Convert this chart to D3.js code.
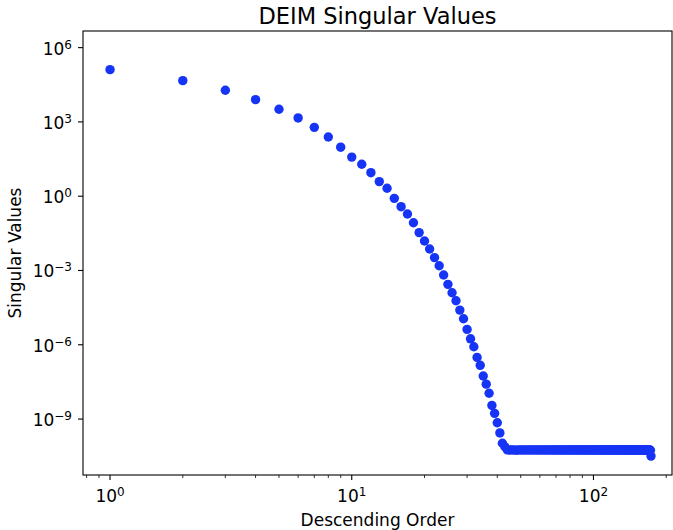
<!DOCTYPE html>
<html>
<head>
<meta charset="utf-8">
<script src="https://cdn.jsdelivr.net/npm/d3@7"></script>
<style>
	body { margin: 0; background: #fff; }
	svg text { font-family: "DejaVu Sans", sans-serif; fill: #000; }
</style>
</head>
<body>
<div id="chart"></div>
<script>
// Singular values, in descending order (index 1..n)
var headValues = [
	1.29e5, 4.65e4, 1.90e4, 7.94e3, 3.24e3, 1.45e3, 6.03e2, 2.45e2, 9.55e1, 3.80e1,
	1.95e1, 8.91, 3.89, 2.09, 8.2e-1, 3.77e-1, 1.91e-1, 8.5e-2, 3.39e-2, 1.55e-2,
	7.4e-3, 3.31e-3, 1.55e-3, 6.6e-4, 2.75e-4, 1.26e-4, 6.0e-5, 2.51e-5, 1.12e-5, 4.17e-6,
	1.74e-6, 8.3e-7, 3.09e-7, 1.48e-7, 5.5e-8, 2.57e-8, 1.10e-8, 3.55e-9, 1.70e-9, 7.1e-10,
	2.75e-10, 1.05e-10, 7.6e-11
];
// the flat floor after index 43
var floorValues = [
	5.7e-11, 5.6e-11, 5.6e-11, 5.6e-11, 5.5e-11, 5.6e-11, 5.6e-11, 5.6e-11, 5.6e-11, 5.6e-11,
	5.6e-11, 5.6e-11, 5.6e-11, 5.6e-11, 5.6e-11, 5.6e-11, 5.6e-11, 5.6e-11, 5.6e-11, 5.6e-11,
	5.6e-11, 5.6e-11, 5.6e-11, 5.6e-11, 5.6e-11, 5.6e-11, 5.6e-11, 5.6e-11, 5.6e-11, 5.6e-11,
	5.6e-11, 5.6e-11, 5.6e-11, 5.6e-11, 5.6e-11, 5.6e-11, 5.6e-11, 5.6e-11, 5.6e-11, 5.6e-11,
	5.6e-11, 5.6e-11, 5.6e-11, 5.6e-11, 5.6e-11, 5.6e-11, 5.6e-11, 5.6e-11, 5.6e-11, 5.6e-11,
	5.6e-11, 5.6e-11, 5.6e-11, 5.6e-11, 5.6e-11, 5.6e-11, 5.6e-11, 5.6e-11, 5.6e-11, 5.6e-11,
	5.6e-11, 5.6e-11, 5.6e-11, 5.6e-11, 5.6e-11, 5.6e-11, 5.6e-11, 5.6e-11, 5.6e-11, 5.6e-11,
	5.6e-11, 5.6e-11, 5.6e-11, 5.6e-11, 5.6e-11, 5.6e-11, 5.6e-11, 5.6e-11, 5.6e-11, 5.6e-11,
	5.6e-11, 5.6e-11, 5.6e-11, 5.6e-11, 5.6e-11, 5.6e-11, 5.6e-11, 5.6e-11, 5.6e-11, 5.6e-11,
	5.6e-11, 5.6e-11, 5.6e-11, 5.6e-11, 5.6e-11, 5.6e-11, 5.6e-11, 5.6e-11, 5.6e-11, 5.6e-11,
	5.6e-11, 5.6e-11, 5.6e-11, 5.6e-11, 5.6e-11, 5.6e-11, 5.6e-11, 5.6e-11, 5.6e-11, 5.6e-11,
	5.6e-11, 5.6e-11, 5.6e-11, 5.6e-11, 5.6e-11, 5.6e-11, 5.6e-11, 5.6e-11, 5.6e-11, 5.6e-11,
	5.6e-11, 5.6e-11, 5.6e-11, 5.6e-11, 5.6e-11, 5.6e-11, 5.6e-11, 5.6e-11, 5.5e-11, 3.2e-11
];
var xTickExps = [0, 1, 2];
var yTickExps = [6, 3, 0, -3, -6, -9];
var xDomain = [0.773, 211.3];
var yDomain = [5.5e-12, 4.7e6];

var values = headValues.concat(floorValues);
var data = values.map(function(v, i) { return {x: i + 1, y: v}; });

var width = 673, height = 530;
var margin = {top: 31, right: 1, bottom: 55, left: 83};

var svg = d3.select("#chart").append("svg")
		.attr("width", width)
		.attr("height", height);

var x = d3.scaleLog()
		.domain(xDomain)
		.range([margin.left, width - margin.right]);

var y = d3.scaleLog()
		.domain(yDomain)
		.range([height - margin.bottom, margin.top]);

var x0 = margin.left, x1 = width - margin.right,
		y0 = margin.top, y1 = height - margin.bottom;

function supText(d) { return d < 0 ? "\u2212" + (-d) : d; }

// Points
svg.append("g")
	.selectAll("circle")
	.data(data)
	.enter().append("circle")
		.attr("cx", function(d) { return x(d.x); })
		.attr("cy", function(d) { return y(d.y); })
		.attr("r", 4.7)
		.style("fill", "#1634f5");

// Frame
svg.append("rect")
		.attr("x", x0)
		.attr("y", y0)
		.attr("width", x1 - x0)
		.attr("height", y1 - y0)
		.style("fill", "none")
		.style("stroke", "#000")
		.style("stroke-width", 1.1);

// X minor ticks
var minor = [];
[-1, 0, 1, 2].forEach(function(e) {
	for (var k = 2; k <= 9; k++) {
		var v = k * Math.pow(10, e);
		if (v > xDomain[0] && v < xDomain[1]) minor.push(v);
	}
});
svg.append("g").selectAll("line")
	.data(minor)
	.enter().append("line")
		.attr("x1", function(d) { return x(d); })
		.attr("x2", function(d) { return x(d); })
		.attr("y1", y1)
		.attr("y2", y1 + 3)
		.style("stroke", "#000")
		.style("stroke-width", 0.8);

// X major ticks
var xt = svg.append("g").selectAll("g")
	.data(xTickExps)
	.enter().append("g")
		.attr("transform", function(d) { return "translate(" + x(Math.pow(10, d)) + ",0)"; });
xt.append("line")
		.attr("y1", y1)
		.attr("y2", y1 + 5)
		.style("stroke", "#000")
		.style("stroke-width", 1.1);
var xtText = xt.append("text")
		.attr("y", 502)
		.attr("text-anchor", "middle")
		.style("font-size", "17px");
xtText.append("tspan").text("10");
xtText.append("tspan")
		.attr("dy", -6)
		.style("font-size", "12px")
		.text(supText);

// Y major ticks
var yt = svg.append("g").selectAll("g")
	.data(yTickExps)
	.enter().append("g")
		.attr("transform", function(d) { return "translate(0," + y(Math.pow(10, d)) + ")"; });
yt.append("line")
		.attr("x1", x0)
		.attr("x2", x0 - 5)
		.style("stroke", "#000")
		.style("stroke-width", 1.1);
var ytText = yt.append("text")
		.attr("x", 72)
		.attr("y", 7)
		.attr("text-anchor", "end")
		.style("font-size", "17px");
ytText.append("tspan").text("10");
ytText.append("tspan")
		.attr("dy", -6)
		.style("font-size", "12px")
		.text(supText);

// Title and labels
svg.append("text")
		.attr("x", (x0 + x1) / 2)
		.attr("y", 24)
		.attr("text-anchor", "middle")
		.style("font-size", "22.5px")
		.text("DEIM Singular Values");

svg.append("text")
		.attr("x", (x0 + x1) / 2)
		.attr("y", 526)
		.attr("text-anchor", "middle")
		.style("font-size", "17px")
		.text("Descending Order");

svg.append("text")
		.attr("transform", "translate(21," + ((y0 + y1) / 2) + ") rotate(-90)")
		.attr("text-anchor", "middle")
		.style("font-size", "17px")
		.text("Singular Values");
</script>
</body>
</html>
